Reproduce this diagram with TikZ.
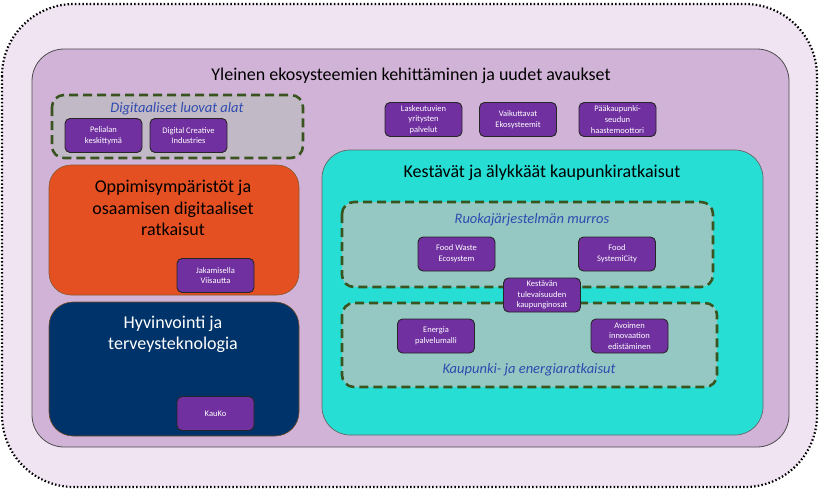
\documentclass[tikz,border=0pt]{standalone}
\usepackage{fontspec}
\setmainfont{Carlito}

\definecolor{tausta}{HTML}{F0E4F2}
\definecolor{paa}{HTML}{D2B3D8}
\definecolor{hanke}{HTML}{7030A0}
\definecolor{oranssi}{HTML}{E55022}
\definecolor{tumma}{HTML}{003369}
\definecolor{turkoosi}{HTML}{27DED4}
\definecolor{harmaa}{HTML}{C2B9C6}
\definecolor{sumea}{HTML}{95C8C3}
\definecolor{vihrea}{HTML}{3A5420}
\definecolor{sininen}{HTML}{2F4BAF}

\tikzset{
  hankebox/.style={draw=black!85, fill=hanke, rounded corners=5pt, line width=0.9pt,
    text=white, align=center, font=\fontsize{8.5}{10.7}\selectfont,
    minimum width=77pt, minimum height=34pt, inner sep=1pt},
  katko/.style={draw=vihrea, line width=2.6pt, dash pattern=on 9pt off 5pt, rounded corners=12pt},
  teema/.style={font=\itshape\fontsize{14.5}{17}\selectfont, text=sininen},
  otsikko/.style={align=center, font=\fontsize{18}{21.5}\selectfont}
}

\begin{document}
\begin{tikzpicture}[x=1pt, y=-1pt]
    \useasboundingbox (0,0) rectangle (819,490);

    % Ulkoreuna
    \draw[fill=tausta, line width=2.2pt, dash pattern=on 1.5pt off 2.2pt, rounded corners=72pt]
        (2,4) rectangle (817,487);

    % Pääalue
    \draw[fill=paa, draw=black!70, line width=0.8pt, rounded corners=32pt] (32,49) rectangle (789,447);
    \node[otsikko] (yleinen) at (411,76) {Yleinen ekosysteemien kehittäminen ja uudet avaukset};

    % Digitaaliset luovat alat
    \draw[katko, fill=harmaa] (52,95) rectangle (303,158);
    \node[teema] (digi) at (177,109) {Digitaaliset luovat alat};
    \node[hankebox] (peli) at (103.5,135.5) {Pelialan\\keskittymä};
    \node[hankebox] (dci) at (188.5,135.5) {Digital Creative\\Industries};

    % Yleiset hankkeet
    \node[hankebox] (lask) at (423.5,119.5) {Laskeutuvien\\yritysten\\palvelut};
    \node[hankebox] (vaik) at (518,119.5) {Vaikuttavat\\Ekosysteemit};
    \node[hankebox] (paak) at (617.5,119.5) {Pääkaupunki-\\seudun\\haastemoottori};

    % Oppimisympäristöt
    \draw[fill=oranssi, draw=brown!70!black, line width=0.6pt, rounded corners=22pt] (49,165) rectangle (299,295);
    \node[otsikko] (oppi) at (173,208) {Oppimisympäristöt ja\\osaamisen digitaaliset\\ratkaisut};
    \node[hankebox] (jaka) at (215.5,275.5) {Jakamisella\\Viisautta};

    % Hyvinvointi
    \draw[fill=tumma, draw=brown!60!black, line width=0.6pt, rounded corners=24pt] (49,302) rectangle (299,436);
    \node[otsikko, text=white] (hyvi) at (173,334.5) {Hyvinvointi ja\\terveysteknologia};
    \node[hankebox] (kauko) at (215.5,413.5) {KauKo};

    % Kestävät kaupunkiratkaisut
    \draw[fill=turkoosi, draw=black!60, line width=0.7pt, rounded corners=28pt] (322,150) rectangle (763,435);
    \node[otsikko] (kest) at (542,173) {Kestävät ja älykkäät kaupunkiratkaisut};

    % Ruokajärjestelmä
    \draw[katko, fill=sumea] (342,202) rectangle (713,287);
    \node[teema] (ruoka) at (532,219.5) {Ruokajärjestelmän murros};
    \node[hankebox] (fwe) at (456.5,254) {Food Waste\\Ecosystem};
    \node[hankebox] (fsc) at (617,254) {Food\\SystemiCity};

    % Kaupunki ja energia
    \draw[katko, fill=sumea] (342,303) rectangle (717,387);
    \node[teema] (kaup) at (529,370) {Kaupunki- ja energiaratkaisut};
    \node[hankebox] (ener) at (436,336) {Energia\\palvelumalli};
    \node[hankebox] (avoi) at (629.5,336) {Avoimen\\innovaation\\edistäminen};

    % Yhteinen hanke
    \node[hankebox] (kesta) at (542,295) {Kestävän\\tulevaisuuden\\kaupunginosat};
\end{tikzpicture}
\end{document}
